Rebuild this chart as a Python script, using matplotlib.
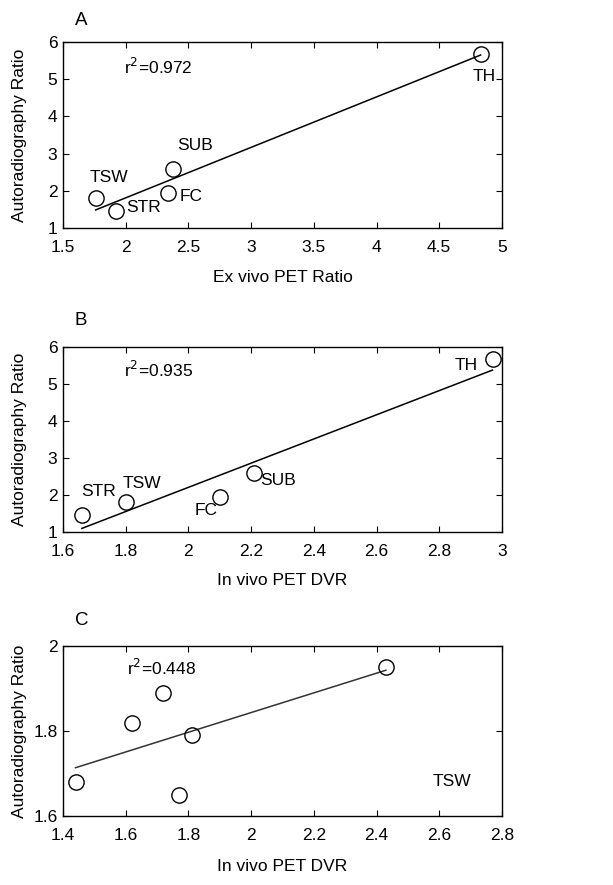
import numpy as np
import matplotlib
matplotlib.use("Agg")
import matplotlib.pyplot as plt

plt.rcParams['font.family'] = ['Liberation Sans', 'DejaVu Sans']
FS = 12.5

# panel A data: ex vivo PET ratio vs autoradiography ratio
a_names = ["TSW", "STR", "FC", "SUB", "TH"]
a_x = [1.76, 1.92, 2.34, 2.38, 4.83]
a_y = [1.80, 1.45, 1.93, 2.58, 5.68]
a_lab_x = [1.715, 2.00, 2.43, 2.41, 4.77]
a_lab_y = [2.37, 1.54, 1.86, 3.23, 5.08]

# panel B data: in vivo PET DVR vs autoradiography ratio
b_names = ["STR", "TSW", "FC", "SUB", "TH"]
b_x = [1.66, 1.80, 2.10, 2.21, 2.97]
b_y = [1.45, 1.80, 1.93, 2.58, 5.68]
b_lab_x = [1.657, 1.79, 2.02, 2.23, 2.85]
b_lab_y = [2.08, 2.32, 1.59, 2.38, 5.51]

# panel C data: TSW, individual animals
c_x = [1.44, 1.62, 1.72, 1.77, 1.81, 2.43]
c_y = [1.68, 1.82, 1.89, 1.65, 1.79, 1.95]

r2_text = ["0.972", "0.935", "0.448"] #as printed on the figure

fig = plt.figure(figsize=(6.13, 8.85), dpi=100)

def panel(rect, x, y, xlim, ylim, xticks, yticks, xlabel, line_col, xlab_y):
    ax = fig.add_axes(rect)
    k, b = np.polyfit(x, y, 1) #least squares fit
    xf = np.array([min(x), max(x)])
    ax.plot(xf, k*xf+b, "-", color=line_col, lw=1.1)
    ax.plot(x, y, "o", mfc="none", mec="black", ms=11, mew=1.0)
    ax.set_xlim(xlim)
    ax.set_ylim(ylim)
    ax.set_xticks(xticks)
    ax.set_xticklabels(["%g" % t for t in xticks])
    ax.set_yticks(yticks)
    ax.set_yticklabels(["%g" % t for t in yticks])
    ax.tick_params(direction="in", top=True, right=True, labelsize=FS, length=4)
    ax.tick_params(axis="x", pad=9)
    ax.tick_params(axis="y", pad=4)
    ax.set_xlabel(xlabel, fontsize=FS, va="center")
    ax.set_ylabel("Autoradiography Ratio", fontsize=FS, va="center")
    ax.xaxis.set_label_coords(0.5, xlab_y)
    ax.yaxis.set_label_coords(-0.1, 0.5)
    for s in ax.spines.values():
        s.set_linewidth(1.0)
    return ax

axA = panel([0.1028, 0.7424, 0.716, 0.210], a_x, a_y, (1.5, 5), (1, 6),
            [1.5, 2, 2.5, 3, 3.5, 4, 4.5, 5], [1, 2, 3, 4, 5, 6], "Ex vivo PET Ratio", "black", -0.265)
axA.text(1.99, 5.33, "r$^2$=" + r2_text[0], fontsize=FS, va="center")
for n, lx, ly in zip(a_names, a_lab_x, a_lab_y):
    axA.text(lx, ly, n, fontsize=FS, va="center")

axB = panel([0.1028, 0.399, 0.716, 0.209], b_x, b_y, (1.6, 3), (1, 6),
            [1.6, 1.8, 2, 2.2, 2.4, 2.6, 2.8, 3], [1, 2, 3, 4, 5, 6], "In vivo PET DVR", "black", -0.262)
axB.text(1.795, 5.38, "r$^2$=" + r2_text[1], fontsize=FS, va="center")
for n, lx, ly in zip(b_names, b_lab_x, b_lab_y):
    axB.text(lx, ly, n, fontsize=FS, va="center")

axC = panel([0.1028, 0.078, 0.716, 0.192], c_x, c_y, (1.4, 2.8), (1.6, 2),
            [1.4, 1.6, 1.8, 2, 2.2, 2.4, 2.6, 2.8], [1.6, 1.8, 2], "In vivo PET DVR", "#333333", -0.3)
axC.text(1.604, 1.948, "r$^2$=" + r2_text[2], fontsize=FS, va="center")
axC.text(2.58, 1.68, "TSW", fontsize=FS, va="center")

fig.text(0.122, 0.977, "A", fontsize=13.5, va="center")
fig.text(0.122, 0.638, "B", fontsize=13.5, va="center")
fig.text(0.122, 0.299, "C", fontsize=13.5, va="center")

fig.savefig("out.png", dpi=100)
